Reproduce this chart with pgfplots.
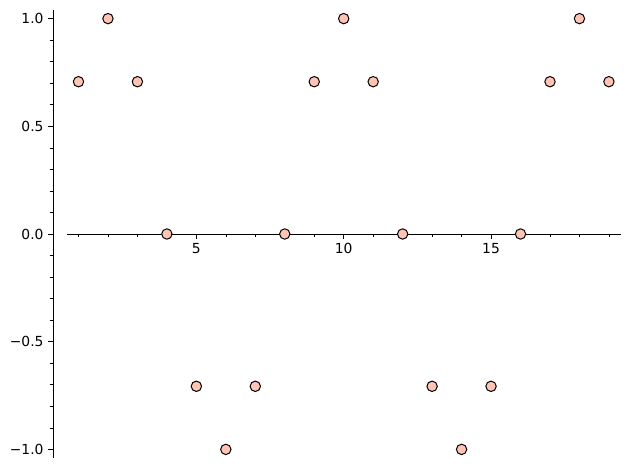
\documentclass[border=0pt]{standalone}
\usepackage{fontspec}
\setmainfont{DejaVu Sans}
\usepackage{pgfplots}
\pgfplotsset{compat=1.18}
\definecolor{markfill}{RGB}{255,196,180}
\begin{document}
\begin{tikzpicture}
\useasboundingbox (0,0) rectangle (472.5pt,351pt);
\begin{axis}[
    at={(39.75pt,7.5pt)}, anchor=south west,
    scale only axis,
    width=426pt, height=336pt,
    xmin=0.135, xmax=19.41,
    ymin=-1.04, ymax=1.04,
    axis x line=middle, axis y line=left,
    axis line style={-, black, line width=0.6pt},
    x axis line style={draw=none},
    xtick={5,10,15}, xticklabels={5,10,15},
    minor xtick={1,2,3,4,6,7,8,9,11,12,13,14,16,17,18,19},
    ytick={-1,-0.5,0,0.5,1},
    yticklabels={−1.0,−0.5,0.0,0.5,1.0},
    minor ytick={-0.9,-0.8,-0.7,-0.6,-0.4,-0.3,-0.2,-0.1,0.1,0.2,0.3,0.4,0.6,0.7,0.8,0.9},
    tick align=outside,
    major tick length=3.6pt, minor tick length=2.1pt,
    every tick/.style={black, line width=0.5pt},
    ticklabel style={font=\fontsize{10.4}{12}\selectfont},
    clip=false,
]
% horizontal axis line at y = 0
\draw[black, line width=0.6pt] (axis cs:0.61,0) -- (axis cs:19.41,0);
\addplot[only marks, mark=*, mark size=3.9pt,
    mark options={fill=markfill, draw=black, line width=0.75pt}]
    coordinates {
    (1,0.7071) (2,1) (3,0.7071) (4,0) (5,-0.7071) (6,-1) (7,-0.7071)
    (8,0) (9,0.7071) (10,1) (11,0.7071) (12,0) (13,-0.7071) (14,-1)
    (15,-0.7071) (16,0) (17,0.7071) (18,1) (19,0.7071)
    };
\end{axis}
\end{tikzpicture}
\end{document}
